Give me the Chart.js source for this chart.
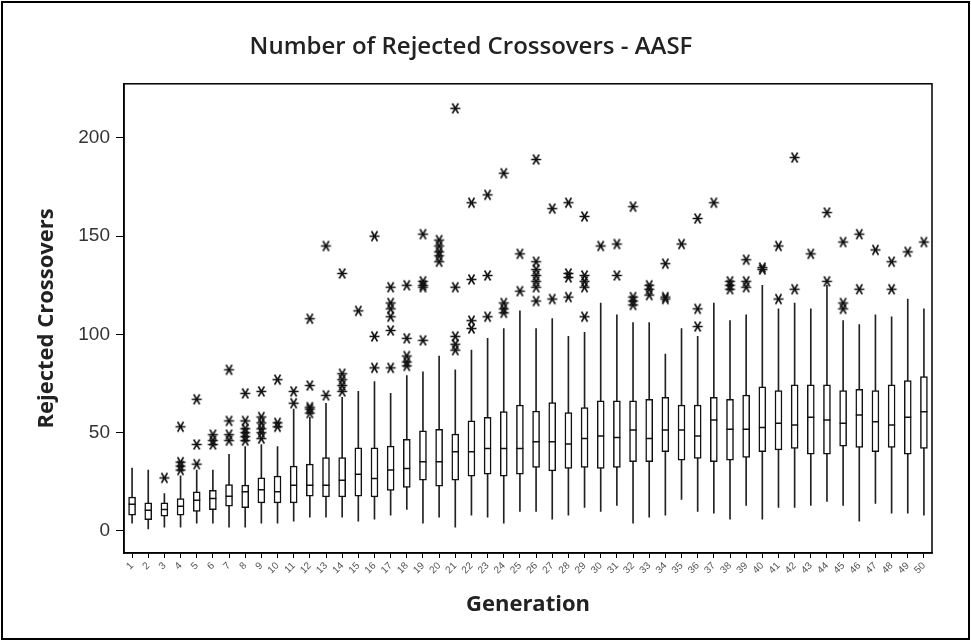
<!DOCTYPE html>
<html><head><meta charset="utf-8">
<script src="https://cdn.jsdelivr.net/npm/chart.js@4.4.1/dist/chart.umd.min.js"></script>
<style>html,body{margin:0;padding:0;background:#fff}</style>
</head><body>
<canvas id="c" width="971" height="641"></canvas>
<script>
const generations = ['1','2','3','4','5','6','7','8','9','10','11','12','13','14','15','16','17','18','19','20','21','22','23','24','25','26','27','28','29','30','31','32','33','34','35','36','37','38','39','40','41','42','43','44','45','46','47','48','49','50'];
const yTicks = [0, 50, 100, 150, 200];
const whiskerLow = [4,1,2,2,4,4,2,2,4,4, 5,7,7,7,5,6,8,11,4,7, 2,8,7,4,10,10,6,8,12,10, 13,4,7,8,16,10,9,6,13,6, 12,12,13,15,13,5,14,9,9,8];
const q1 = [8,5.8,7.5,8,10,10.9,12.6,11.9,14.3,14.3, 14.3,17.7,17.3,17.3,17.7,17.3,20.7,22.1,25.8,22.8, 25.8,27.9,28.9,27.9,28.9,32.3,30.6,31.8,32.3,31.8, 32.3,35.2,35.2,40.3,36,36.9,35.2,36,37.4,40.3, 41.2,42,39.1,39.1,43.2,42.5,40.3,42.5,39.1,42];
const median = [13.6,10.5,10.9,12.6,15.6,16.5,17.7,19.9,21,19.9, 23.3,23.3,23.3,25.8,28.9,26.7,31,31.8,35.2,35.2, 40.3,40.3,42,42,42,45.4,45.4,44.2,47.1,48.3, 47.6,51.4,47.1,51.4,51.4,48.3,56.5,51.7,51.7,52.7, 54.8,53.9,57.8,56.5,54.8,59,55.6,53.9,57.8,60.7];
const q3 = [17.3,14.3,14.3,16.5,19.9,20.7,23.6,23.3,27,27.9, 33,34,37.3,37.3,42.3,42.3,43.2,46.6,50.9,51.7, 49.3,56.1,57.8,60.7,64.1,61,65.3,60.2,62.8,66.2, 66.2,66.2,67,68,64.1,64.1,68,67,69.2,73.4, 71.4,74.3,74.3,74.3,71.4,72.1,71.4,74.3,76.5,78.6];
const whiskerHigh = [32,31,19,28,31,31,39,43,44,43, 62,58,65,68,71,76,70,79,81,89, 82,92,98,103,112,103,108,99,101,116, 110,106,106,90,103,99,116,107,110,125, 113,116,113,125,107,105,110,109,118,113];
const outliers = [
  [], [], [27], [53,35,33,31], [67,44,34], [49,46,44], [82,56,49,46], [70,56,52,50,48,46], [71,58,55,52,50,47], [77,55,53],
  [71,65], [108,74,63,62,60], [145,69], [131,80,77,74,71], [112], [150,99,83], [124,116,113,109,102,83], [125,98,89,86,84], [151,127,125,124,97], [148,145,142,140,137],
  [215,124,99,95,92], [167,128,107,103], [171,130,109], [182,116,113,111], [141,122], [189,137,133,130,127,124,117], [164,118], [167,131,129,119], [160,130,127,124,109], [145],
  [146,130], [165,119,117,115], [125,123,120], [136,119,118], [146], [159,113,104], [167], [127,125,123], [138,127,124], [134,133],
  [145,118], [190,123], [141], [162,127], [147,116,113], [151,123], [143], [137,123], [142], [147]
];

function makeStar() {
  const c = document.createElement('canvas');
  c.width = 13; c.height = 13;
  const g = c.getContext('2d');
  g.strokeStyle = '#111'; g.lineWidth = 1.6;
  g.beginPath();
  g.moveTo(1.5, 6.5); g.lineTo(11.5, 6.5);
  g.moveTo(3.5, 1.5); g.lineTo(9.5, 11.5);
  g.moveTo(9.5, 1.5); g.lineTo(3.5, 11.5);
  g.stroke();
  return c;
}
const starImg = makeStar();

const outlierPoints = [];
generations.forEach((g, i) => outliers[i].forEach(v => outlierPoints.push({x: g, y: v})));

const framePlugin = {
  id: 'frame',
  beforeDraw(chart) {
    const c = chart.ctx;
    c.save(); c.fillStyle = '#fff'; c.fillRect(0, 0, chart.width, chart.height); c.restore();
  },
  afterDraw(chart) {
    const {ctx: c, chartArea: a} = chart;
    c.save();
    c.strokeStyle = '#000';
    c.lineWidth = 1.5;
    c.strokeRect(a.left, a.top, a.right - a.left, a.bottom - a.top);
    c.lineWidth = 2;
    c.strokeRect(2, 2, chart.width - 4, chart.height - 4);
    c.restore();
  }
};

new Chart(document.getElementById('c'), {
  type: 'bar',
  data: {
    labels: generations,
    datasets: [
      { type: 'bar', label: 'Whisker', data: generations.map((g, i) => [whiskerLow[i], whiskerHigh[i]]),
        backgroundColor: '#222', borderWidth: 0, barThickness: 1, grouped: false, order: 4 },
      { type: 'bar', label: 'Box', data: generations.map((g, i) => [q1[i], q3[i]]),
        backgroundColor: '#fff', borderColor: '#111', borderWidth: 1.5, borderSkipped: false,
        barThickness: 7, grouped: false, order: 3 },
      { type: 'line', label: 'Median', data: generations.map((g, i) => ({x: g, y: median[i]})),
        showLine: false, pointStyle: 'line', pointRadius: 3.5, borderColor: '#111',
        pointBorderColor: '#111', pointBorderWidth: 1.5, order: 2 },
      { type: 'line', label: 'Outliers', data: outlierPoints, showLine: false,
        pointStyle: starImg, pointRadius: 6, order: 1 }
    ]
  },
  options: {
    responsive: false,
    animation: false,
    layout: { padding: { left: 10, right: 39, top: 0, bottom: 0 } },
    plugins: {
      legend: { display: false },
      tooltip: { enabled: false },
      title: { display: true, text: 'Number of Rejected Crossovers - AASF',
        font: { family: 'Open Sans', size: 24, weight: '600' }, color: '#222',
        padding: { top: 33, bottom: 22 } }
    },
    scales: {
      x: {
        type: 'category', offset: true,
        grid: { display: true, drawOnChartArea: false, drawTicks: true, tickLength: 5, offset: false, color: '#000' },
        border: { display: true, color: '#000', width: 1.5 },
        ticks: { autoSkip: false, minRotation: 45, maxRotation: 45, padding: 2,
          font: { family: 'Liberation Sans', size: 10 }, color: '#555' },
        title: { display: true, text: 'Generation', color: '#222',
          font: { family: 'Open Sans', size: 22, weight: 'bold' }, padding: { top: 0, bottom: 23 } },
        afterFit(s) { s.height = 88; }
      },
      y: {
        min: -11.2, max: 227.5,
        afterBuildTicks(s) { s.ticks = yTicks.map(v => ({ value: v })); },
        grid: { display: true, drawOnChartArea: false, drawTicks: true, tickLength: 8, color: '#000' },
        border: { display: true, color: '#000', width: 1.5 },
        ticks: { padding: 6, font: { family: 'Liberation Sans', size: 19 }, color: '#333' },
        title: { display: true, text: 'Rejected Crossovers', color: '#222',
          font: { family: 'Open Sans', size: 22, weight: 'bold' }, padding: { top: 24, bottom: 0 } },
        afterFit(s) { s.width = 114; }
      }
    }
  },
  plugins: [framePlugin]
});
</script>
</body></html>
